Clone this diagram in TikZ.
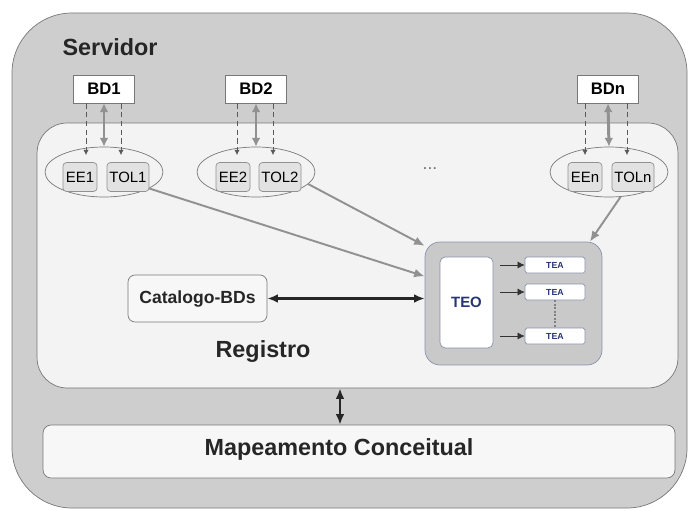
\documentclass[tikz,border=0pt]{standalone}
\usepackage{fontspec}
\setmainfont{Liberation Sans}
\usetikzlibrary{shapes.geometric,arrows.meta}
\definecolor{servgray}{RGB}{206,206,206}
\definecolor{regfill}{RGB}{243,243,243}
\definecolor{mapfill}{RGB}{247,247,247}
\definecolor{linegray}{RGB}{120,120,120}
\definecolor{arrowgray}{RGB}{145,145,145}
\definecolor{boxgray}{RGB}{226,226,226}
\definecolor{teogray}{RGB}{201,201,201}
\definecolor{teoline}{RGB}{140,145,172}
\definecolor{teonavy}{RGB}{40,52,120}

\begin{document}
\begin{tikzpicture}[x=0.02cm,y=-0.02cm,
  bdbox/.style={draw=linegray,fill=white,minimum width=1.22cm,minimum height=0.56cm,inner sep=0pt,font=\fontsize{9.5}{11}\selectfont\bfseries},
  ellbox/.style={ellipse,draw=linegray,minimum width=2.36cm,minimum height=1cm,inner sep=0pt},
  eebox/.style={draw=arrowgray,fill=boxgray,rounded corners=2pt,minimum height=0.58cm,inner sep=0pt,font=\fontsize{8.5}{10}\selectfont},
  teabox/.style={draw=teoline,fill=white,rounded corners=1pt,minimum width=1.2cm,minimum height=0.32cm,inner sep=0pt,font=\fontsize{5}{6}\selectfont\bfseries,text=teonavy},
  bigtxt/.style={font=\fontsize{13.3}{16}\selectfont\bfseries,text=black!85},
  dasharr/.style={densely dashed,draw=black!65,shorten >=4pt,-{Latex[length=3pt,width=3pt]}},
  grayarr/.style={draw=arrowgray,line width=1.1pt,-{Latex[length=6pt,width=5pt]}},
  graybi/.style={draw=arrowgray,line width=1.7pt,{Latex[length=5pt,width=5pt]}-{Latex[length=5pt,width=5pt]}},
  blkbi/.style={draw=black!85,line width=1.2pt,{Latex[length=6pt,width=5pt]}-{Latex[length=6pt,width=5pt]}},
  smallarr/.style={draw=black!80,shorten <=4pt,-{Latex[length=4pt,width=4pt]}}
]
\useasboundingbox (0,0) rectangle (689,510);

% Servidor
\draw[fill=servgray,draw=linegray,rounded corners=1.2cm] (12,13) rectangle (687,508);
\node[bigtxt] (servtxt) at (110,47) {Servidor};

% Registro and Mapeamento
\node[draw=linegray,fill=regfill,rounded corners=0.6cm,minimum width=12.82cm,minimum height=5.3cm] (reg) at (357.5,255.5) {};
\node[bigtxt] (regtxt) at (263,352) {Registro};
\node[draw=linegray,fill=mapfill,rounded corners=0.16cm,minimum width=12.64cm,minimum height=1.06cm] (map) at (359,451.5) {};
\node[bigtxt] (maptxt) at (339,449) {Mapeamento Conceitual};
\draw[blkbi] ([xshift=-0.35cm]reg.south) -- ([xshift=-0.35cm]reg.south |- map.north);

% bases de dados
\node[bdbox] (bd1) at (104,89) {BD1};
\node[bdbox] (bd2) at (256,89) {BD2};
\node[bdbox] (bdn) at (608,89) {BDn};

\node[ellbox] (ell1) at (104,172) {};
\node[ellbox] (ell2) at (256,172) {};
\node[ellbox] (elln) at (609,172) {};

\node[eebox,minimum width=0.68cm] (ee1) at (80,177) {EE1};
\node[eebox,minimum width=0.84cm] (tol1) at (128,177) {TOL1};
\node[eebox,minimum width=0.68cm] (ee2) at (233,177) {EE2};
\node[eebox,minimum width=0.84cm] (tol2) at (280,177) {TOL2};
\node[eebox,minimum width=0.68cm] (een) at (585,177) {EEn};
\node[eebox,minimum width=0.84cm] (toln) at (633,177) {TOLn};

\node[text=black!55,font=\fontsize{10}{10}\selectfont] (dots) at (430,169) {...};

\draw[graybi] (bd1.south) -- (ell1.north);
\draw[graybi] (bd2.south) -- (ell2.north);
\draw[graybi] (bdn.south) -- (elln.north);
\draw[dasharr] ([xshift=-0.36cm]bd1.south) -- ([xshift=-0.36cm]bd1.south |- ee1.north);
\draw[dasharr] ([xshift=0.34cm]bd1.south) -- ([xshift=0.34cm]bd1.south |- tol1.north);
\draw[dasharr] ([xshift=-0.38cm]bd2.south) -- ([xshift=-0.38cm]bd2.south |- ee2.north);
\draw[dasharr] ([xshift=0.34cm]bd2.south) -- ([xshift=0.34cm]bd2.south |- tol2.north);
\draw[dasharr] ([xshift=-0.46cm]bdn.south) -- ([xshift=-0.46cm]bdn.south |- een.north);
\draw[dasharr] ([xshift=0.38cm]bdn.south) -- ([xshift=0.38cm]bdn.south |- toln.north);

% TEO e TEAs
\node[draw=teoline,fill=teogray,rounded corners=0.3cm,minimum width=3.54cm,minimum height=2.46cm] (teocl) at (513.5,303.5) {};
\node[draw=teoline,fill=white,rounded corners=3pt,minimum width=1.06cm,minimum height=1.82cm,font=\fontsize{8.5}{10}\selectfont\bfseries,text=teonavy] (teo) at (466.5,302.5) {TEO};
\node[teabox] (tea1) at (555,265) {TEA};
\node[teabox] (tea2) at (555,292) {TEA};
\node[teabox] (tea3) at (555,336) {TEA};
\draw[smallarr] (teo.east |- tea1.west) -- (tea1.west);
\draw[smallarr] (teo.east |- tea2.west) -- (tea2.west);
\draw[smallarr] (teo.east |- tea3.west) -- (tea3.west);
\draw[densely dotted,draw=black!50,line width=1pt] (tea2.south) -- (tea3.north);

\draw[grayarr] (ell1.-20) -- (teocl.163);
\draw[grayarr] (ell2.-13) -- (teocl.147);
\draw[grayarr] (elln.-65) -- (teocl.39);

% catalogo
\node[draw=linegray,fill=mapfill,rounded corners=4pt,minimum width=2.78cm,minimum height=0.94cm,font=\fontsize{10}{12}\selectfont\bfseries,text=black!85] (cat) at (197.5,298.5) {Catalogo-BDs};
\draw[blkbi] (cat.east) -- (cat.east -| teocl.west);
\end{tikzpicture}
\end{document}
